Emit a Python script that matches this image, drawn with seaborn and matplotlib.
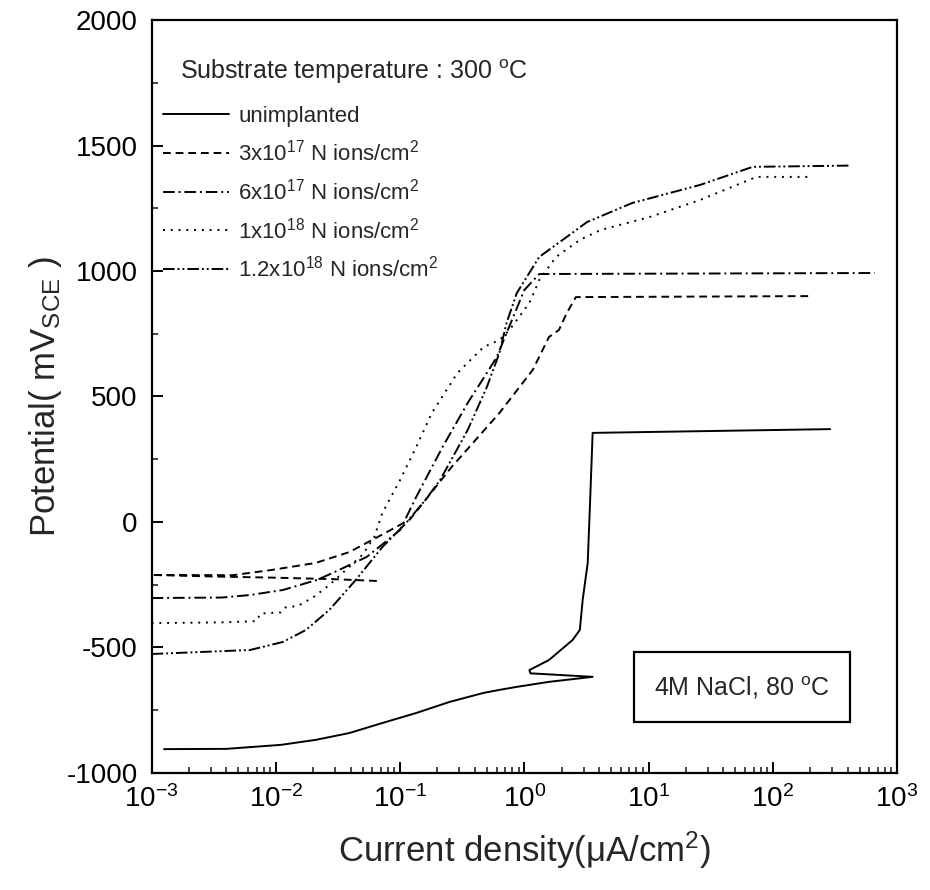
import pandas as pd
import matplotlib.pyplot as plt
import seaborn as sns
from matplotlib.patches import Rectangle

# Potentiodynamic polarization curves
# current density in uA/cm2, potential in mV(SCE)
I_UNIMP = [0.00126, 0.004, 0.011, 0.021, 0.039, 0.072, 0.135, 0.25, 0.47, 0.63, 0.87,
           1.58, 3.55, 1.12, 1.1, 1.58, 2.45, 2.8, 2.95, 3.24, 3.39, 3.55, 290]
E_UNIMP = [-905, -904, -888, -868, -841, -801, -761, -717, -681, -669, -657,
           -637, -617, -603, -590, -550, -470, -430, -311, -163, 88, 355, 370]

I_3E17 = [0.065, 0.03, 0.01, 0.003, 0.001, 0.0045, 0.0093, 0.021, 0.039, 0.072, 0.12,
          0.26, 0.63, 1.17, 1.58, 1.9, 2.2, 2.6, 200]
E_3E17 = [-235, -228, -222, -217, -211, -212, -191, -163, -120, -50, 10,
          219, 434, 606, 737, 765, 833, 896, 900]

I_6E17 = [0.001, 0.0037, 0.0062, 0.0114, 0.0214, 0.0287, 0.054, 0.1, 0.135, 0.22,
          0.35, 0.5, 0.6, 1.0, 1.32, 660]
E_6E17 = [-303, -301, -291, -271, -231, -203, -139, -32, 100, 299,
          474, 594, 657, 924, 988, 992]

I_1E18 = [0.001, 0.0037, 0.007, 0.0075, 0.011, 0.012, 0.015, 0.02, 0.027, 0.05, 0.062,
          0.072, 0.1, 0.135, 0.18, 0.29, 0.47, 0.63, 0.76, 1.1, 1.32, 1.8, 2.8, 4.1,
          10.2, 26, 74, 190]
E_1E18 = [-403, -400, -395, -365, -360, -340, -335, -300, -251, -130, -60,
          36, 167, 299, 434, 594, 697, 725, 765, 873, 964, 1056, 1124, 1163,
          1215, 1283, 1375, 1375]

I_12E18 = [0.001, 0.0062, 0.0114, 0.0175, 0.027, 0.044, 0.072, 0.11, 0.16, 0.21,
           0.35, 0.5, 0.63, 0.72, 0.87, 1.32, 2.2, 3.2, 7.4, 26, 69, 420]
E_12E18 = [-526, -510, -478, -430, -350, -231, -100, -8, 88, 167,
           366, 538, 673, 793, 912, 1056, 1136, 1195, 1271, 1343, 1415, 1420]

LABELS = ["unimplanted",
          r"3x10$^{17}$ N ions/cm$^{2}$",
          r"6x10$^{17}$ N ions/cm$^{2}$",
          r"1x10$^{18}$ N ions/cm$^{2}$",
          r"1.2x10$^{18}$ N ions/cm$^{2}$"]

series = [(I_UNIMP, E_UNIMP), (I_3E17, E_3E17), (I_6E17, E_6E17),
          (I_1E18, E_1E18), (I_12E18, E_12E18)]
frames = []
for lab, (cur, pot) in zip(LABELS, series):
    frames.append(pd.DataFrame({"current": cur, "potential": pot, "sample": lab}))
df = pd.concat(frames, ignore_index=True)

sns.set_theme(style="ticks")
plt.rcParams["font.family"] = ["Liberation Sans", "DejaVu Sans"]
plt.rcParams["mathtext.fontset"] = "custom"
plt.rcParams["mathtext.rm"] = "Liberation Sans"
plt.rcParams["mathtext.it"] = "Liberation Sans"
plt.rcParams["mathtext.default"] = "regular"
plt.rcParams["axes.unicode_minus"] = False
plt.rcParams["xtick.direction"] = "in"
plt.rcParams["ytick.direction"] = "in"

dash_styles = {
    LABELS[0]: "",
    LABELS[1]: (4, 2.5),
    LABELS[2]: (6, 2, 1, 2),
    LABELS[3]: (1, 3),
    LABELS[4]: (6, 1.5, 1, 1.5, 1, 1.5),
}

fig = plt.figure(figsize=(9.3, 8.9), dpi=100)
ax = fig.add_axes([0.163, 0.1315, 0.8015, 0.846])

sns.lineplot(data=df, x="current", y="potential", style="sample", dashes=dash_styles,
             color="black", linewidth=1.4, sort=False, estimator=None,
             legend=False, ax=ax)

ax.set_xscale("log")
ax.set_xlim(1e-3, 1e3)
ax.set_ylim(-1000, 2000)
ax.set_yticks([-1000, -500, 0, 500, 1000, 1500, 2000])
ax.set_yticks(range(-750, 2000, 500), minor=True)

for side in ["left", "bottom", "right", "top"]:
    ax.spines[side].set_linewidth(1.6)
    ax.spines[side].set_color("black")
ax.tick_params(axis="both", which="major", length=8, width=1.4, labelsize=20,
               colors="black")
ax.tick_params(axis="y", which="major", pad=10)
ax.tick_params(axis="x", which="major", pad=9)
ax.tick_params(axis="both", which="minor", length=4, width=1.2)

ax.set_xlabel(r"Current density($\mu$A/cm$^{2}$)", fontsize=25, labelpad=12)
ax.set_ylabel(r"Potential( mV$_{SCE}$ )", fontsize=25, labelpad=2)

# legend
handles = ax.get_lines()[:5]
ax.legend(handles, LABELS, loc="upper left", bbox_to_anchor=(0.003, 0.898),
          frameon=False, fontsize=16, handlelength=3.0, handletextpad=0.4,
          labelspacing=0.58, borderaxespad=0)
ax.text(0.038, 0.931, "Substrate temperature : 300 $^{o}$C", transform=ax.transAxes,
        fontsize=18, va="center", ha="left")

# electrolyte box
ax.add_patch(Rectangle((0.647, 0.068), 0.29, 0.093, transform=ax.transAxes,
                       fill=False, edgecolor="black", linewidth=1.6))
ax.text(0.792, 0.113, "4M NaCl, 80 $^{o}$C", transform=ax.transAxes,
        fontsize=18, va="center", ha="center")

fig.savefig("out.png", dpi=100)
